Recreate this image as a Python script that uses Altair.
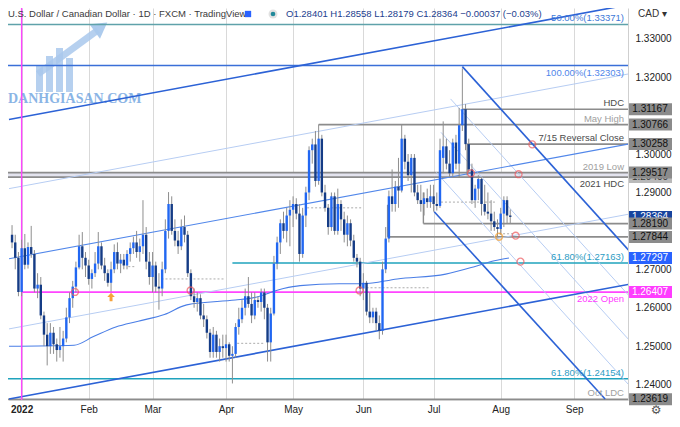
import altair as alt
import pandas as pd

FONT = "Liberation Sans"
W, H = 620, 392
X_DOM = [-2.7, 188.3]          # bar index (0 = 3 Jan 2022, trading days only)
Y_DOM = [1.2360, 1.3380]
PX_PER_UNIT = H / (Y_DOM[1] - Y_DOM[0])

UP, DN, WICK = "#2167f2", "#153c86", "#8e8e8e"

# ---------------- axis ticks ----------------
month_idx = [0, 21, 41, 64, 85, 107, 129, 150, 173]
month_lbl = ["2022", "Feb", "Mar", "Apr", "May", "Jun", "Jul", "Aug", "Sep"]
# 1.28000 and 1.31000 sit under price tags in the reference, so they are not listed
price_ticks = [1.24, 1.25, 1.26, 1.27, 1.29, 1.30, 1.32, 1.33]

# ---------------- daily candles (Dec 29 2021 .. Aug 4 2022) ----------------
bar_idx = list(range(-3, 154))
opens = [
    1.2790, 1.2770, 1.2730,
    1.2641, 1.2755, 1.2712, 1.2758, 1.2740, 1.2650, 1.2660, 1.2580, 1.2530, 1.2500, 1.2535, 1.2505, 1.2490, 1.2500, 1.2520, 1.2575, 1.2625, 1.2655, 1.2705, 1.2760, 1.2730,
    1.2710, 1.2675, 1.2690, 1.2715, 1.2760, 1.2710, 1.2690, 1.2665, 1.2700, 1.2745, 1.2715, 1.2725, 1.2710, 1.2740, 1.2755, 1.2770, 1.2745, 1.2760, 1.2790, 1.2720,
    1.2680, 1.2710, 1.2655, 1.2650, 1.2700, 1.2800, 1.2870, 1.2800, 1.2775, 1.2760, 1.2810, 1.2790, 1.2690, 1.2630, 1.2615, 1.2625, 1.2580, 1.2570, 1.2535, 1.2485, 1.2530, 1.2485, 1.2500,
    1.2495, 1.2505, 1.2475, 1.2480, 1.2550, 1.2570, 1.2600, 1.2630, 1.2610, 1.2580, 1.2620, 1.2615, 1.2640, 1.2600, 1.2510, 1.2585, 1.2715, 1.2770, 1.2820, 1.2800, 1.2840,
    1.2855, 1.2870, 1.2845, 1.2740, 1.2840, 1.2900, 1.3010, 1.3025, 1.2930, 1.3040, 1.2900, 1.2860, 1.2810, 1.2890, 1.2800, 1.2870, 1.2830, 1.2790, 1.2820, 1.2775, 1.2730, 1.2720,
    1.2650, 1.2665, 1.2590, 1.2575, 1.2590, 1.2560, 1.2540, 1.2700, 1.2780, 1.2890, 1.2870, 1.2915, 1.2905, 1.3040, 1.2980, 1.2945, 1.2990, 1.2900, 1.2880, 1.2870, 1.2885, 1.2875,
    1.2890, 1.2870, 1.2865, 1.2990, 1.3020, 1.2975, 1.2950, 1.3030, 1.2975, 1.3075, 1.31167, 1.30258, 1.2960, 1.2880, 1.2910, 1.2935, 1.2870, 1.2850, 1.2845, 1.2825, 1.2810,
    1.2805, 1.2845, 1.2880, 1.28401,
]
highs = [
    1.2815, 1.2790, 1.2745,
    1.2777, 1.2792, 1.2770, 1.2813, 1.2750, 1.2690, 1.2680, 1.2590, 1.2560, 1.2560, 1.2550, 1.2520, 1.2550, 1.2540, 1.2600, 1.2640, 1.2670, 1.2720, 1.2790, 1.2797, 1.2745,
    1.2725, 1.2700, 1.2745, 1.2797, 1.2770, 1.2730, 1.2700, 1.2720, 1.2765, 1.2770, 1.2740, 1.2740, 1.2750, 1.2770, 1.2785, 1.2800, 1.2780, 1.2880, 1.2810, 1.2745,
    1.2745, 1.2720, 1.2690, 1.2720, 1.2830, 1.2901, 1.2890, 1.2830, 1.2800, 1.2830, 1.2840, 1.2800, 1.2700, 1.2650, 1.2640, 1.2635, 1.2610, 1.2580, 1.2545, 1.2550, 1.2540, 1.2520, 1.2530,
    1.2530, 1.2510, 1.2500, 1.2560, 1.2600, 1.2620, 1.2650, 1.2680, 1.2640, 1.2640, 1.2630, 1.2650, 1.2650, 1.2610, 1.2600, 1.2735, 1.2785, 1.2830, 1.2850, 1.2860, 1.2880,
    1.2890, 1.2885, 1.2870, 1.2860, 1.2915, 1.3020, 1.3040, 1.3060, 1.3077, 1.3050, 1.2920, 1.2870, 1.2900, 1.2900, 1.2910, 1.2880, 1.2850, 1.2840, 1.2830, 1.2790, 1.2740, 1.2730,
    1.2690, 1.2670, 1.2640, 1.2600, 1.2600, 1.2580, 1.2720, 1.2810, 1.2905, 1.2960, 1.2930, 1.2990, 1.3077, 1.3050, 1.3000, 1.3000, 1.3000, 1.2920, 1.2920, 1.2900, 1.2910, 1.2920,
    1.2920, 1.2900, 1.3040, 1.3085, 1.3040, 1.3010, 1.3040, 1.3050, 1.3120, 1.3223, 1.3130, 1.3040, 1.2975, 1.2920, 1.2945, 1.2940, 1.2920, 1.2900, 1.2880, 1.2850, 1.2830,
    1.2860, 1.2890, 1.2890, 1.28558,
]
lows = [
    1.2755, 1.2700, 1.2630,
    1.2630, 1.2700, 1.2702, 1.2730, 1.2640, 1.2625, 1.2570, 1.2500, 1.2450, 1.2480, 1.2480, 1.2460, 1.2470, 1.2460, 1.2510, 1.2560, 1.2600, 1.2640, 1.2700, 1.2700, 1.2680,
    1.2660, 1.2650, 1.2680, 1.2700, 1.2700, 1.2670, 1.2655, 1.2642, 1.2690, 1.2700, 1.2690, 1.2700, 1.2700, 1.2720, 1.2740, 1.2730, 1.2720, 1.2740, 1.2700, 1.2660,
    1.2640, 1.2640, 1.2595, 1.2630, 1.2690, 1.2780, 1.2790, 1.2760, 1.2740, 1.2750, 1.2770, 1.2680, 1.2620, 1.2600, 1.2590, 1.2570, 1.2550, 1.2520, 1.2470, 1.2470, 1.2470, 1.2460, 1.2470,
    1.2460, 1.2460, 1.2403, 1.2470, 1.2530, 1.2560, 1.2580, 1.2600, 1.2560, 1.2570, 1.2600, 1.2590, 1.2570, 1.2460, 1.2460, 1.2580, 1.2700, 1.2740, 1.2780, 1.2770, 1.2760,
    1.2810, 1.2830, 1.2720, 1.2730, 1.2810, 1.2880, 1.2975, 1.2915, 1.2920, 1.2890, 1.2850, 1.2790, 1.2800, 1.2790, 1.2790, 1.2800, 1.2770, 1.2760, 1.2760, 1.2720, 1.2705, 1.2630,
    1.2620, 1.2580, 1.2560, 1.2560, 1.2540, 1.2518, 1.2530, 1.2690, 1.2770, 1.2850, 1.2850, 1.2860, 1.2900, 1.2960, 1.2930, 1.2900, 1.2890, 1.2870, 1.2850, 1.2840, 1.2860, 1.2860,
    1.2850, 1.2853, 1.2860, 1.2950, 1.2960, 1.2940, 1.2940, 1.2960, 1.2940, 1.3060, 1.3010, 1.2950, 1.2870, 1.2860, 1.2880, 1.2840, 1.2840, 1.2830, 1.2800, 1.2800, 1.2784,
    1.2790, 1.2810, 1.2820, 1.28179,
]
closes = [
    1.2770, 1.2730, 1.2641,
    1.2755, 1.2712, 1.2758, 1.2740, 1.2650, 1.2660, 1.2580, 1.2530, 1.2500, 1.2535, 1.2505, 1.2490, 1.2500, 1.2520, 1.2575, 1.2625, 1.2655, 1.2705, 1.2760, 1.2730, 1.2710,
    1.2675, 1.2690, 1.2715, 1.2760, 1.2710, 1.2690, 1.2665, 1.2700, 1.2745, 1.2715, 1.2725, 1.2710, 1.2740, 1.2755, 1.2770, 1.2745, 1.2760, 1.2790, 1.2720, 1.2680,
    1.2710, 1.2655, 1.2650, 1.2700, 1.2800, 1.2870, 1.2800, 1.2775, 1.2760, 1.2810, 1.2790, 1.2690, 1.2630, 1.2615, 1.2625, 1.2580, 1.2570, 1.2535, 1.2485, 1.2530, 1.2485, 1.2500, 1.2495,
    1.2505, 1.2475, 1.2480, 1.2550, 1.2570, 1.2600, 1.2630, 1.2610, 1.2580, 1.2620, 1.2615, 1.2640, 1.2600, 1.2510, 1.2585, 1.2715, 1.2770, 1.2820, 1.2800, 1.2840, 1.2855,
    1.2870, 1.2845, 1.2740, 1.2840, 1.2900, 1.3010, 1.3025, 1.2930, 1.3040, 1.2900, 1.2860, 1.2810, 1.2890, 1.2800, 1.2870, 1.2830, 1.2790, 1.2820, 1.2775, 1.2730, 1.2720, 1.2650,
    1.2665, 1.2590, 1.2575, 1.2590, 1.2560, 1.2540, 1.2700, 1.2780, 1.2890, 1.2870, 1.2915, 1.2905, 1.3040, 1.2980, 1.2945, 1.2990, 1.2900, 1.2880, 1.2870, 1.2885, 1.2875, 1.2890,
    1.2870, 1.2865, 1.3010, 1.3020, 1.2975, 1.2950, 1.3030, 1.2975, 1.3075, 1.31167, 1.30258, 1.2960, 1.2880, 1.2910, 1.2935, 1.2870, 1.2850, 1.2845, 1.2825, 1.2810, 1.2805,
    1.2845, 1.2880, 1.2840, 1.28364,
]

# ---------------- moving average ----------------
ma_idx = [-3.95, 16.4, 22.5, 29.5, 36.5, 44.7, 51.7, 66.9, 72.0, 82.0, 87.2, 99.4, 107.0, 117.6, 132.8, 142.0, 148.0, 152.6]
ma_val = [1.2500, 1.25025, 1.2525, 1.2550, 1.2565, 1.25825, 1.26075, 1.2620, 1.2625, 1.2650, 1.26575, 1.26625, 1.26625, 1.2675, 1.26875, 1.27075, 1.27225, 1.27297]

# ---------------- horizontal levels ----------------
grey_lvl_p = [1.31167, 1.30766, 1.30258, 1.29517, 1.29400, 1.28190, 1.27844, 1.23619]
grey_lvl_start = [138.0, 93.0, 139.5, -10, -10, 125.8, 114.6, -10]
fib_lvl_p = [1.33371, 1.32303, 1.27163, 1.24154, 1.26407]
fib_lvl_start = [-10, -10, 66.0, -10, 0]
fib_lvl_kind = ["f50", "f100", "f618", "f618", "open"]
band_lo, band_hi = 1.29400, 1.29517

lab_above_txt = ["50.00%(1.33371)", "HDC", "May High", "7/15 Reversal Close", "2019 Low", "61.80%(1.27163)", "61.80%(1.24154)", "Oct LDC"]
lab_above_p = [1.33371, 1.31167, 1.30766, 1.30258, 1.29517, 1.27163, 1.24154, 1.23619]
lab_above_kind = ["f50", "dark", "light", "dark", "light", "f618", "f618", "light"]
lab_below_txt = ["100.00%(1.32303)", "2021 HDC", "2022 Open"]
lab_below_p = [1.32303, 1.29400, 1.26407]
lab_below_kind = ["f100", "dark", "open"]

# ---------------- trend lines (start idx, start price, end idx, end price) ----------------
thick_i1 = [-3.95, -3.95, 138.0, 129.2]
thick_p1 = [1.3090, 1.23625, 1.32275, 1.2850]
thick_i2 = [190.6, 190.6, 190.6, 182.7]
thick_p2 = [1.33893, 1.26618, 1.2745, 1.23625]
mid_i1, mid_p1, mid_i2, mid_p2 = [-3.95], [1.27275], [190.6], [1.30268]
faint_i1 = [-3.95, -3.95, 134.3, 131.3, 129.8]
faint_p1 = [1.2910, 1.2545, 1.31435, 1.30565, 1.29525]
faint_i2 = [190.6, 190.6, 190.6, 190.6, 190.6]
faint_p2 = [1.32093, 1.28443, 1.26275, 1.25125, 1.2395]

# dotted pivot lines and vertical connectors
piv_i1 = [33.4, 43.8, 67.5, 89.4, 108.0, 131.3, 149.5]
piv_i2 = [35.6, 63.5, 75.7, 106.4, 128.0, 148.6, 154.0]
piv_p = [1.2707, 1.2675, 1.25075, 1.2860, 1.2652, 1.2875, 1.27925]
con_i = [114.6, 125.8, 139.5]
con_p1 = [1.27844, 1.28190, 1.30258]
con_p2 = [1.2868, 1.2900, 1.2945]

# markers
red_i = [16.7, 52.9, 105.8, 140.7, 155.6, 159.9, 154.7, 156.2]
red_p = [1.2641, 1.2645, 1.2645, 1.2950, 1.29475, 1.3025, 1.27875, 1.2720]
org_i, org_p = [149.5], [1.2785]
arrow_i, arrow_p = [28.0], [1.2628]

# price tags on the right scale
tag_p = [1.29400, 1.28364, 1.31167, 1.30766, 1.30258, 1.29517, 1.28190, 1.27844, 1.27297, 1.26407, 1.23619]
tag_kind = ["lgrey", "last", "grey", "grey", "grey", "grey", "grey", "grey", "ma", "open", "grey"]

# ---------------- styles ----------------
lvl_col = {"f50": "#5fa2aa", "f100": "#3a6fd8", "f618": "#1fa3bd", "open": "#ff45ff"}
lab_col = {"f50": "#3d78d8", "f100": "#4f86ea", "f618": "#2b9cc4", "open": "#ff3cff", "dark": "#4a4a4a", "light": "#a0a0a0"}
tag_bg = {"grey": "#8b8b8b", "lgrey": "#b9b9b9", "last": "#17449e", "ma": "#2962ff", "open": "#ff3cff"}
tag_fg = {"grey": "#111111", "lgrey": "#333333", "last": "#ffffff", "ma": "#ffffff", "open": "#ffffff"}

# ---------------- scales / axes ----------------
xs = alt.Scale(domain=X_DOM, nice=False, zero=False)
ys = alt.Scale(domain=Y_DOM, nice=False, zero=False)
expr = "''"
for v, t in zip(reversed(month_idx), reversed(month_lbl)):
    expr = f"datum.value == {v} ? '{t}' : ({expr})"
xaxis = alt.Axis(values=month_idx, labelExpr=expr, title=None, grid=True, gridColor="#d9d9d9",
                 gridWidth=1, ticks=False, domainColor="#cfcfcf", labelColor="#222222",
                 labelFontSize=10, labelFont=FONT, labelPadding=4, labelFlush=False, labelOverlap=False,
                 labelFontWeight={"condition": {"test": "datum.value == 0", "value": "bold"}, "value": "normal"})
yaxis = alt.Axis(orient="right", values=price_ticks, format=".5f", title=None, grid=False, ticks=False,
                 domainColor="#cfcfcf", labelColor="#222222", labelFontSize=10, labelFont=FONT,
                 labelPadding=7, labelOverlap=False)


def X(f):
    return alt.X(f, type="quantitative", scale=xs, axis=xaxis)


def Y(f):
    return alt.Y(f, type="quantitative", scale=ys, axis=yaxis)


one = pd.DataFrame({"k": [0]})
layers = []

# watermark logo
wm = "#a9c8ec"
for (x1, x2, y1, y2) in [(28, 35, 58, 84), (38, 45, 48, 84), (48, 55, 40, 84), (58, 65, 50, 84)]:
    layers.append(alt.Chart(one).mark_rect(color=wm, opacity=0.85).encode(
        x=alt.value(x1), x2=alt.value(x2), y=alt.value(y1), y2=alt.value(y2)))
layers.append(alt.Chart(one).mark_rule(color=wm, strokeWidth=7, opacity=0.85).encode(
    x=alt.value(30), x2=alt.value(90), y=alt.value(66), y2=alt.value(22)))
layers.append(alt.Chart(one).mark_point(shape="triangle-up", angle=54, size=320, filled=True, color=wm, opacity=0.95).encode(
    x=alt.value(93), y=alt.value(19)))
layers.append(alt.Chart(pd.DataFrame({"t": ["DANHGIASAN.COM"]})).mark_text(
    align="left", baseline="middle", font="Liberation Serif", fontWeight="bold", fontSize=14, color="#6ea3df", opacity=0.8
).encode(x=alt.value(0), y=alt.value(91), text="t"))

# 2019 low / 2021 HDC band
layers.append(alt.Chart(pd.DataFrame({"i1": [-10], "i2": [200], "p1": [band_lo], "p2": [band_hi]})).mark_rect(
    color="#e3e3ee", clip=True).encode(x=X("i1"), x2="i2", y=Y("p1"), y2="p2"))

# grey levels
gdf = pd.DataFrame({"i1": grey_lvl_start, "i2": [200] * len(grey_lvl_p), "p": grey_lvl_p})
layers.append(alt.Chart(gdf).mark_rule(color="#8c8c8c", strokeWidth=1.6, clip=True).encode(
    x=X("i1"), x2="i2", y=Y("p")))
# fib / open levels
fdf = pd.DataFrame({"i1": fib_lvl_start, "i2": [200] * len(fib_lvl_p), "p": fib_lvl_p,
                    "col": [lvl_col[k] for k in fib_lvl_kind]})
layers.append(alt.Chart(fdf).mark_rule(strokeWidth=1.6, clip=True).encode(
    x=X("i1"), x2="i2", y=Y("p"), color=alt.Color("col:N", scale=None)))

# trend lines
for (a, b, c, d, col, sw) in [(faint_i1, faint_p1, faint_i2, faint_p2, "#b7cdf3", 1.0),
                              (mid_i1, mid_p1, mid_i2, mid_p2, "#5187ea", 1.1),
                              (thick_i1, thick_p1, thick_i2, thick_p2, "#2c62d6", 1.6)]:
    tdf_ = pd.DataFrame({"i1": a, "p1": b, "i2": c, "p2": d})
    layers.append(alt.Chart(tdf_).mark_rule(color=col, strokeWidth=sw, clip=True).encode(
        x=X("i1"), x2="i2", y=Y("p1"), y2="p2"))

# moving average
layers.append(alt.Chart(pd.DataFrame({"i": ma_idx, "p": ma_val})).mark_line(
    color="#4a7ee6", strokeWidth=1.1, interpolate="monotone", clip=True).encode(x=X("i"), y=Y("p")))

# dotted pivots and connectors
layers.append(alt.Chart(pd.DataFrame({"i1": piv_i1, "i2": piv_i2, "p": piv_p})).mark_rule(
    color="#ababab", strokeWidth=1, strokeDash=[2, 2], clip=True).encode(x=X("i1"), x2="i2", y=Y("p")))
layers.append(alt.Chart(pd.DataFrame({"i": con_i, "p1": con_p1, "p2": con_p2})).mark_rule(
    color="#8c8c8c", strokeWidth=1.4, clip=True).encode(x=X("i"), y=Y("p1"), y2="p2"))

# 2022 start vertical
layers.append(alt.Chart(pd.DataFrame({"i": [0]})).mark_rule(color="#ff45ff", strokeWidth=1.4).encode(x=X("i")))

# candles
cdf = pd.DataFrame({"i": bar_idx, "o": opens, "h": highs, "l": lows, "c": closes})
layers.append(alt.Chart(cdf).mark_rule(color=WICK, strokeWidth=1, clip=True).encode(
    x=X("i"), y=Y("l"), y2="h"))
layers.append(alt.Chart(cdf).mark_bar(width=2.4, clip=True).encode(
    x=X("i"), y=Y("o"), y2="c",
    color=alt.condition("datum.c >= datum.o", alt.value(UP), alt.value(DN))))

# markers
layers.append(alt.Chart(pd.DataFrame({"i": red_i, "p": red_p})).mark_point(
    shape="circle", filled=False, size=48, strokeWidth=1.3, color="#ee5a5f", clip=True).encode(x=X("i"), y=Y("p")))
layers.append(alt.Chart(pd.DataFrame({"i": org_i, "p": org_p})).mark_point(
    shape="circle", filled=False, size=48, strokeWidth=1.5, color="#f5a030", clip=True).encode(x=X("i"), y=Y("p")))
layers.append(alt.Chart(pd.DataFrame({"i": arrow_i, "p": arrow_p})).mark_point(
    shape="M0,-1L0.9,0L0.35,0L0.35,1L-0.35,1L-0.35,0L-0.9,0Z", filled=True, size=70, color="#f6a23a",
    opacity=1).encode(x=X("i"), y=Y("p")))

# level labels
for (txts, ps, kinds, dy) in [(lab_above_txt, lab_above_p, lab_above_kind, -6),
                              (lab_below_txt, lab_below_p, lab_below_kind, 7)]:
    ldf = pd.DataFrame({"t": txts, "p": ps, "col": [lab_col[k] for k in kinds]})
    layers.append(alt.Chart(ldf).mark_text(align="right", baseline="middle", fontSize=9.5, font=FONT, dy=dy).encode(
        x=alt.value(616), y=Y("p"), text="t", color=alt.Color("col:N", scale=None)))

# price tags
half = 6.0 / PX_PER_UNIT
tdf = pd.DataFrame({"p": tag_p, "top": [p + half for p in tag_p], "bot": [p - half for p in tag_p],
                    "t": [f"{p:.5f}" for p in tag_p],
                    "bg": [tag_bg[k] for k in tag_kind], "fg": [tag_fg[k] for k in tag_kind]})
for r in range(len(tag_p)):
    sub = tdf.iloc[[r]]
    layers.append(alt.Chart(sub).mark_rect().encode(
        x=alt.value(621), x2=alt.value(664), y=Y("top"), y2="bot", color=alt.Color("bg:N", scale=None)))
    layers.append(alt.Chart(sub).mark_text(align="center", baseline="middle", fontSize=10, font=FONT).encode(
        x=alt.value(642), y=Y("p"), text="t", color=alt.Color("fg:N", scale=None)))

# header texts
layers.append(alt.Chart(pd.DataFrame({"t": ["U.S. Dollar / Canadian Dollar \u00b7 1D \u00b7 FXCM \u00b7 TradingView"]})).mark_text(
    align="left", baseline="top", fontSize=9.5, font=FONT, color="#3a3a3a").encode(x=alt.value(0), y=alt.value(1), text="t"))
layers.append(alt.Chart(one).mark_point(shape="square", filled=True, size=40, color="#2962ff", opacity=1).encode(
    x=alt.value(240), y=alt.value(6)))
layers.append(alt.Chart(one).mark_point(shape="circle", filled=True, size=80, color="#e1e1e1", opacity=1).encode(
    x=alt.value(265), y=alt.value(6)))
layers.append(alt.Chart(one).mark_point(shape="circle", filled=True, size=22, color="#21899a", opacity=1).encode(
    x=alt.value(265), y=alt.value(6)))
layers.append(alt.Chart(pd.DataFrame({"t": ["O1.28401  H1.28558  L1.28179  C1.28364  \u22120.00037 (\u22120.03%)"]})).mark_text(
    align="left", baseline="top", fontSize=9.5, font=FONT, color="#23408e").encode(x=alt.value(278), y=alt.value(1), text="t"))
layers.append(alt.Chart(pd.DataFrame({"t": ["CAD \u25be"]})).mark_text(
    align="left", baseline="top", fontSize=10, font=FONT, color="#333333").encode(x=alt.value(630), y=alt.value(1), text="t"))
layers.append(alt.Chart(pd.DataFrame({"t": ["\u2699"]})).mark_text(
    align="center", baseline="middle", fontSize=12, font="DejaVu Sans", color="#555555").encode(x=alt.value(648), y=alt.value(402), text="t"))

chart = alt.layer(*layers).properties(
    width=W, height=H,
    autosize=alt.AutoSizeParams(type="none"),
    padding={"left": 0, "top": 0, "right": 44, "bottom": 19},
    background="white",
).configure_view(stroke=None)

chart.save("out.html", embed_options={"renderer": "svg", "actions": False})
